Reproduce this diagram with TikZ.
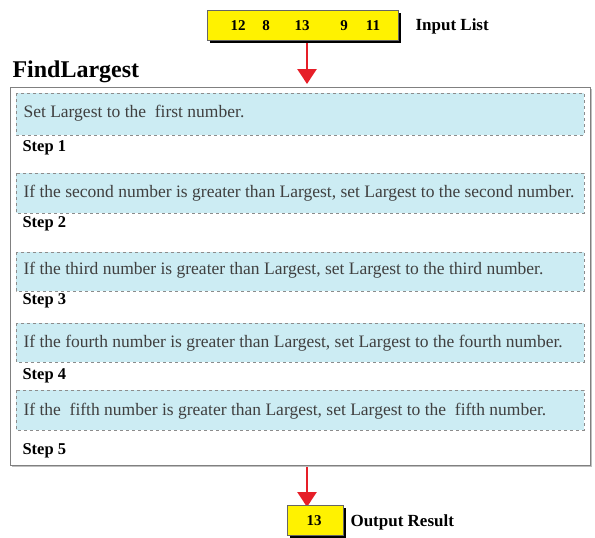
\documentclass[tikz,border=0pt]{standalone}
\usepackage{fontspec}
\setmainfont{Liberation Serif}
\usetikzlibrary{arrows.meta}
\definecolor{stepfill}{RGB}{204,236,243}
\definecolor{dashgray}{RGB}{140,140,140}
\definecolor{arrowred}{RGB}{230,30,40}
\tikzset{
  stepbox/.style={draw=dashgray, dashed, fill=stepfill, line width=0.8pt},
  steptext/.style={anchor=west, font=\fontsize{17.5}{20}\selectfont, text=black!75},
  steplabel/.style={anchor=west, font=\bfseries\fontsize{16.5}{19}\selectfont},
  yelbox/.style={fill=yellow, draw=black!60, line width=0.5pt},
  flowarrow/.style={draw=arrowred, line width=2.6pt, -{Triangle[length=15pt,width=19pt]}},
  numtext/.style={font=\bfseries\fontsize{15}{17}\selectfont},
  sidelabel/.style={anchor=west, font=\bfseries\fontsize{17}{19}\selectfont}
}
\begin{document}
\begin{tikzpicture}[x=1pt,y=-1pt]
\useasboundingbox (0,0) rectangle (595,538);
% input box with shadow
\fill[black] (210,13) rectangle (401,43);
\draw[yelbox] (207,10) rectangle (398,40);
\node[numtext] (n1) at (238,26) {12};
\node[numtext] (n2) at (266,26) {8};
\node[numtext] (n3) at (302,26) {13};
\node[numtext] (n4) at (344,26) {9};
\node[numtext] (n5) at (373,26) {11};
\node[sidelabel] (inlabel) at (412,26) {Input List};
\coordinate (a1s) at (307,43);
\coordinate (a1e) at (307,84);
\draw[flowarrow] (a1s) -- (a1e);
% title
\node[anchor=west, font=\bfseries\fontsize{24}{28}\selectfont] (title) at (9,72) {FindLargest};
% outer box
\fill[black!25] (12,89) rectangle (592,467);
\draw[draw=black!50, fill=white, line width=0.8pt] (10,87) rectangle (590,465);
% step boxes
\draw[stepbox] (16,93) rectangle (584,135);
\node[steptext] (t1) at (20,113) {Set Largest to the \ first number.};
\node[steplabel] (s1) at (19,148) {Step 1};
\draw[stepbox] (16,173) rectangle (584,213);
\node[steptext] (t2) at (20,193) {If the second number is greater than Largest, set Largest to the second number.};
\node[steplabel] (s2) at (19,224) {Step 2};
\draw[stepbox] (16,252) rectangle (584,291);
\node[steptext] (t3) at (20,270) {If the third number is greater than Largest, set Largest to the third number.};
\node[steplabel] (s3) at (19,301) {Step 3};
\draw[stepbox] (16,323) rectangle (584,362);
\node[steptext] (t4) at (20,343) {If the fourth number is greater than Largest, set Largest to the fourth number.};
\node[steplabel] (s4) at (19,376) {Step 4};
\draw[stepbox] (16,390) rectangle (584,430);
\node[steptext] (t5) at (20,411) {If the \ fifth number is greater than Largest, set Largest to the \ fifth number.};
\node[steplabel] (s5) at (19,451) {Step 5};
% output
\coordinate (a2s) at (307,467);
\coordinate (a2e) at (307,507);
\draw[flowarrow] (a2s) -- (a2e);
\fill[black] (290,508) rectangle (346,538);
\draw[yelbox] (287,505) rectangle (343,535);
\node[numtext] (out) at (314,521) {13};
\node[sidelabel] (outlabel) at (347,522) {Output Result};
\end{tikzpicture}
\end{document}
